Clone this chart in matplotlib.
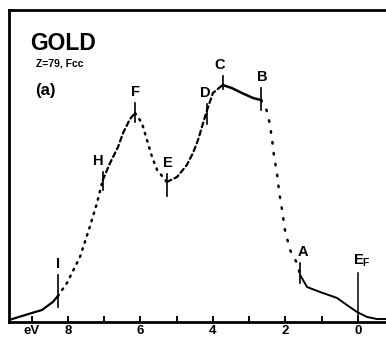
import matplotlib
matplotlib.use("Agg")
import matplotlib.pyplot as plt
import numpy as np

# Photoemission energy distribution curve of gold (binding energy, eV)
energy = [9.63, 9.00, 8.72, 8.42, 8.28, 8.03, 7.67, 7.40, 7.20, 7.04,
          6.84, 6.62, 6.48, 6.29, 6.15, 5.96, 5.82, 5.68, 5.54, 5.27,
          4.99, 4.72, 4.55, 4.41, 4.27, 4.16, 4.00, 3.73, 3.48, 3.20,
          2.89, 2.67, 2.52, 2.44, 2.37, 2.31, 2.23, 2.17, 2.09, 2.01,
          1.87, 1.68, 1.59, 1.40, 1.04, 0.57, 0.30, 0.02, -0.26, -0.53,
          -0.78]
intensity = [2, 9, 12, 20, 26, 39, 65, 95, 119, 142,
             159, 175, 189, 203, 209, 199, 182, 165, 152, 140,
             145, 157, 169, 182, 199, 212, 229, 237, 234, 229,
             224, 222, 212, 200, 184, 165, 149, 130, 112, 92,
             72, 59, 47, 35, 30, 24, 17, 10, 5, 3,
             3]

# Labelled structures and their energies
point_labels = ["I", "H", "F", "E", "D", "C", "B", "A"]
point_energy = [8.28, 7.04, 6.15, 5.27, 4.16, 3.73, 2.67, 1.59]

fermi_energy = 0.0
x_tick_values = [9, 8, 7, 6, 5, 4, 3, 2, 1, 0]
x_tick_labels = ["eV", "8", "", "6", "", "4", "", "2", "", "0"]

plt.rcParams["font.family"] = ["Liberation Sans", "DejaVu Sans"]
plt.rcParams["font.weight"] = "bold"

fig = plt.figure(figsize=(3.86, 3.40), dpi=100)
ax = fig.add_axes([9 / 386, 18 / 340, 1 - 9 / 386, 312 / 340])

energy = np.array(energy)
intensity = np.array(intensity)

def idx(e):
    return int(np.argmin(np.abs(energy - e)))

# line style of each stretch between labelled points
solid = "-"
dotted = (0, (0.6, 2.4))
dotted_sparse = (0, (0.6, 3.8))
dashed = (0, (2.2, 1.6))
segments = [
    (0, idx(8.28), solid, 1.6),
    (idx(8.28), idx(7.04), dotted, 1.8),
    (idx(7.04), idx(6.15), dashed, 1.6),
    (idx(6.15), idx(5.27), dotted, 1.8),
    (idx(5.27), idx(3.73), dashed, 1.6),
    (idx(3.73), idx(2.67), solid, 1.8),
    (idx(2.67), idx(1.59), dotted_sparse, 1.8),
    (idx(1.59), len(energy) - 1, solid, 1.4),
]
for i0, i1, ls, lw in segments:
    ax.plot(energy[i0:i1 + 1], intensity[i0:i1 + 1], color="black",
            linestyle=ls, linewidth=lw, solid_capstyle="round",
            dash_capstyle="round")

# tick marks across the curve at each labelled point, with labels above
tick_up = {"I": 21, "H": 8, "F": 10, "E": 8, "D": 6, "C": 9, "B": 12, "A": 12}
tick_dn = {"I": 11, "H": 10, "F": 9, "E": 14, "D": 14, "C": 4, "B": 10, "A": 8}
label_dx = {"I": 0, "H": -3, "F": 0, "E": 1, "D": -1, "C": -2, "B": 1, "A": 2}
for lab, e in zip(point_labels, point_energy):
    y = float(np.interp(-e, -energy, intensity))
    top = y + tick_up[lab]
    ax.plot([e, e], [y - tick_dn[lab], top], color="black", linewidth=1.2)
    ax.annotate(lab, (e, top), xytext=(label_dx[lab], 3),
                textcoords="offset points", ha="center", va="bottom",
                fontsize=10.5, fontweight="bold")

# Fermi level marker
ax.plot([fermi_energy, fermi_energy], [0, 49], color="black", linewidth=1.1)
ax.annotate(r"E$_\mathregular{F}$", (fermi_energy, 49), xytext=(3, 3),
            textcoords="offset points", ha="center", va="bottom",
            fontsize=10.5, fontweight="bold")

ax.set_xlim(9.63, -0.78)
ax.set_ylim(0, 312)

ax.set_xticks(x_tick_values)
ax.set_xticklabels(x_tick_labels, fontsize=9.5, fontweight="bold")
ax.set_yticks([])
ax.tick_params(axis="x", direction="in", length=4.5, width=1.4, pad=2)

for side in ("left", "bottom", "top"):
    ax.spines[side].set_linewidth(2.0)
ax.spines["right"].set_visible(False)

ax.text(0.055, 0.93, "GOLD", transform=ax.transAxes, fontsize=16.5,
        fontweight="bold", ha="left", va="top")
ax.text(0.072, 0.845, "Z=79, Fcc", transform=ax.transAxes, fontsize=7.5,
        fontweight="bold", ha="left", va="top")
ax.text(0.068, 0.765, "(a)", transform=ax.transAxes, fontsize=12,
        fontweight="bold", ha="left", va="top")

fig.savefig("out.png", dpi=100)
